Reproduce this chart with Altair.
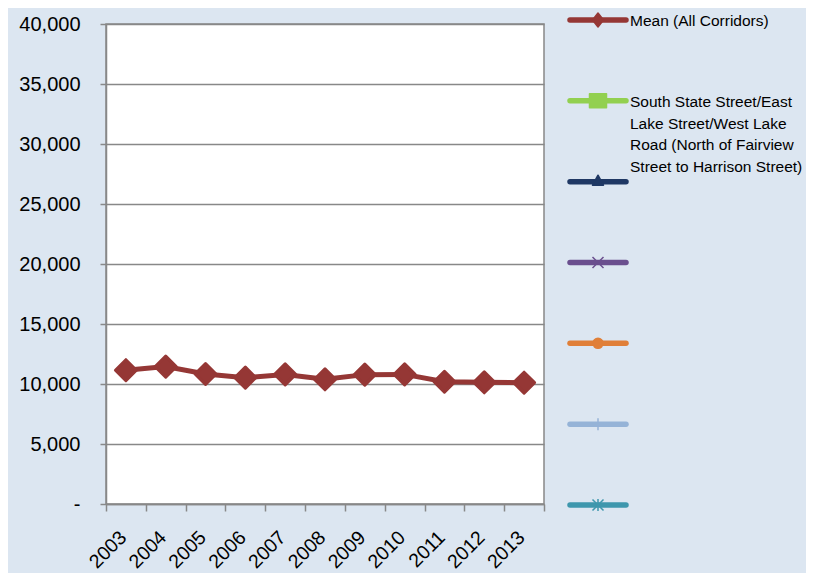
import altair as alt
import pandas as pd

# ---- data ----
years = ["2003", "2004", "2005", "2006", "2007", "2008", "2009", "2010", "2011", "2012", "2013"]
mean_values = [11150, 11450, 10830, 10530, 10800, 10390, 10780, 10800, 10190, 10140, 10110]

series_order = [0, 1, 2, 3, 4, 5, 6]
legend_labels = [
    "Mean (All Corridors)",
    "South State Street/East\nLake Street/West Lake\nRoad (North of Fairview\nStreet to Harrison Street)",
    "", "", "", "", "",
]
series_colors = ["#953735", "#92D050", "#1F3864", "#6A4F8E", "#E07F38", "#95B3D7", "#3E97AD"]
series_shapes = [
    "M0,-1.4L1.1,0L0,1.4L-1.1,0Z",                              # diamond
    "M-1.7,-1.4L1.7,-1.4L1.7,1.4L-1.7,1.4Z",                    # square
    "M0,-1.3L1.1,0.7L-1.1,0.7Z",                                # triangle
    "M-1.1,-1.1L1.1,1.1M-1.1,1.1L1.1,-1.1",                     # x
    "circle",                                                   # circle
    "M0,-1.2L0,1.2M-1.1,0L1.1,0",                               # plus
    "M-1.1,-1.1L1.1,1.1M-1.1,1.1L1.1,-1.1M0,-1.2L0,1.2",        # asterisk
]
y_ticks = [0, 5000, 10000, 15000, 20000, 25000, 30000, 35000, 40000]

GRAY = "#888888"
RED = "#953735"

df = pd.DataFrame({"year": years, "value": mean_values})
leg = pd.DataFrame({"order": series_order, "label": legend_labels})

x_enc = alt.X(
    "year:N",
    sort=years,
    scale=alt.Scale(type="band", paddingInner=0, paddingOuter=0),
    axis=alt.Axis(
        title=None, labelAngle=315, labelAlign="right", labelBaseline="middle",
        labelPadding=23, labelOffset=-3, tickBand="extent", tickSize=7, tickColor=GRAY,
        tickWidth=1.5, domainColor=GRAY, domainWidth=1.5, labelFontSize=19.5,
        labelFont="Liberation Sans", labelColor="#000000", grid=False,
    ),
)
y_enc = alt.Y(
    "value:Q",
    scale=alt.Scale(domain=[0, 40000], nice=False),
    axis=alt.Axis(
        title=None, values=y_ticks,
        labelExpr="datum.value == 0 ? '-\u2007' : format(datum.value, ',')",
        labelFontSize=20, labelFont="Liberation Sans", labelColor="#000000",
        labelPadding=20, tickSize=6, tickColor=GRAY, tickWidth=1.5,
        domainColor=GRAY, domainWidth=1.5, gridColor=GRAY, gridWidth=1.5,
    ),
)

line = alt.Chart(df).mark_line(color=RED, strokeWidth=5).encode(x=x_enc, y=y_enc)
pts = alt.Chart(df).mark_point(
    shape="diamond", size=440, fill=RED, stroke=RED, strokeWidth=3,
    strokeJoin="round", opacity=1, fillOpacity=1,
).encode(x=x_enc, y=y_enc)
main = alt.layer(line, pts)

ly = alt.Y("order:O", scale=alt.Scale(type="point", range=[-4, 481], padding=0), axis=None)
cscale = alt.Scale(domain=series_order, range=series_colors)

legend_rules = alt.Chart(leg).mark_rule(strokeWidth=5.5, strokeCap="round").encode(
    x=alt.value(464), x2=alt.value(520), y=ly,
    color=alt.Color("order:O", scale=cscale, legend=None),
)
legend_marks = alt.Chart(leg).mark_point(
    filled=True, size=100, strokeWidth=1.5, opacity=1, strokeJoin="round"
).encode(
    x=alt.value(492), y=ly,
    shape=alt.Shape("order:O", scale=alt.Scale(domain=series_order, range=series_shapes), legend=None),
    fill=alt.Fill("order:O", scale=cscale, legend=None),
    stroke=alt.Stroke("order:O", scale=cscale, legend=None),
)
legend_text = alt.Chart(leg).mark_text(
    align="left", baseline="alphabetic", dy=6, font="Liberation Sans",
    fontSize=15.5, lineBreak="\n", lineHeight=21.7, color="#000000",
).encode(x=alt.value(524), y=ly, text="label:N")

chart = alt.layer(main, legend_rules, legend_marks, legend_text).resolve_scale(
    y="independent"
).properties(
    width=438, height=480,
    autosize=alt.AutoSizeParams(type="none"),
    padding={"left": 98, "top": 16, "right": 262, "bottom": 72},
).configure(
    background="#DCE6F1",
).configure_view(
    fill="white", stroke=GRAY, strokeWidth=1.5,
)

chart.save("out.html", embed_options={"renderer": "svg", "actions": False})
